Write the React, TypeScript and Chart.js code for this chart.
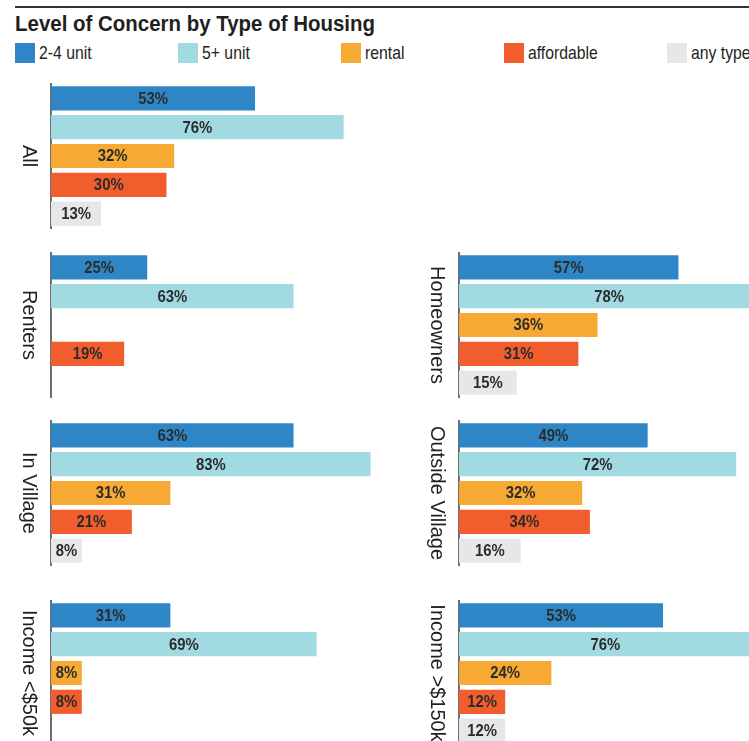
import React, { useEffect, useRef } from 'react';
import { Chart, registerables } from 'chart.js';

Chart.register(...registerables);

const chartTitle = 'Level of Concern by Type of Housing';
const housingTypes = ['2-4 unit', '5+ unit', 'rental', 'affordable', 'any type'];
const typeColors = ['#2e86c6', '#a2dae2', '#f6aa33', '#f15d2d', '#e6e7e9'];

const allValues = [53, 76, 32, 30, 13];
const renterValues = [25, 63, null, 19, null];
const homeownerValues = [57, 78, 36, 31, 15];
const inVillageValues = [63, 83, 31, 21, 8];
const outsideVillageValues = [49, 72, 32, 34, 16];
const incomeUnder50kValues = [31, 69, 8, 8, null];
const incomeOver150kValues = [53, 76, 24, 12, 12];

const FONT = "'Liberation Sans', Arial, sans-serif";
const TEXT = '#231f20';

const barLabelPlugin = {
  id: 'barLabels',
  afterDatasetsDraw(chart: any) {
    const ctx = chart.ctx;
    const meta = chart.getDatasetMeta(0);
    const data = chart.data.datasets[0].data;
    meta.data.forEach((el: any, i: number) => {
      const v = data[i];
      if (v == null) return;
      const p = el.getProps(['x', 'y', 'base'], true);
      ctx.save();
      ctx.font = `bold 16px ${FONT}`;
      ctx.fillStyle = '#2b2b2b';
      ctx.textAlign = 'center';
      ctx.textBaseline = 'middle';
      ctx.translate((p.x + p.base) / 2, p.y + 1);
      ctx.scale(0.93, 1);
      ctx.fillText(`${v}%`, 0, 0);
      ctx.restore();
    });
  },
};

const panelLabelPlugin = {
  id: 'panelLabel',
  afterDraw(chart: any, _args: any, opts: any) {
    const { ctx, chartArea } = chart;
    ctx.save();
    ctx.translate(chartArea.left - 28, (chartArea.top + chartArea.bottom) / 2);
    ctx.rotate(Math.PI / 2);
    ctx.font = `20px ${FONT}`;
    ctx.fillStyle = TEXT;
    ctx.textAlign = 'center';
    ctx.textBaseline = 'alphabetic';
    ctx.fillText(opts.text, 0, 0);
    ctx.restore();
  },
};

type PanelProps = { label: string; values: (number | null)[]; left: number; top: number; axisX: number; height: number };

const PAD_V = 24;

function Panel({ label, values, left, top, axisX, height }: PanelProps) {
  const ref = useRef<HTMLCanvasElement>(null);
  const width = 450;
  useEffect(() => {
    const chart = new Chart(ref.current as HTMLCanvasElement, {
      type: 'bar',
      data: {
        labels: housingTypes,
        datasets: [
          {
            data: values as any,
            backgroundColor: typeColors,
            borderWidth: 0,
            barPercentage: 0.84,
            categoryPercentage: 1,
          },
        ],
      },
      options: {
        indexAxis: 'y',
        animation: false,
        responsive: false,
        maintainAspectRatio: false,
        layout: { padding: { left: axisX - left, right: width - (axisX - left) - 385, top: PAD_V, bottom: PAD_V } },
        scales: {
          x: { display: false, min: 0, max: 100 },
          y: {
            display: true,
            ticks: { display: false },
            grid: { display: false, drawTicks: false },
            border: { display: true, color: '#6d6e71', width: 2 },
          },
        },
        plugins: {
          legend: { display: false },
          tooltip: { enabled: false },
          panelLabel: { text: label },
        } as any,
      },
      plugins: [barLabelPlugin, panelLabelPlugin],
    });
    return () => chart.destroy();
  }, []);
  return (
    <canvas
      ref={ref}
      width={width}
      height={height + PAD_V * 2}
      style={{ position: 'absolute', left, top: top - PAD_V, width, height: height + PAD_V * 2 }}
    />
  );
}

const legendX = [15, 178, 341, 504, 667];

export default function App() {
  return (
    <div
      style={{
        position: 'absolute',
        left: 0,
        top: 0,
        width: 749,
        height: 741,
        overflow: 'hidden',
        background: '#fff',
      }}
    >
      <div style={{ position: 'absolute', left: 15, top: 6, width: 734, height: 2, background: '#333' }} />
      <div
        style={{
          position: 'absolute',
          left: 15,
          top: 10,
          fontFamily: FONT,
          fontWeight: 'bold',
          fontSize: 22,
          lineHeight: '28px',
          color: TEXT,
          whiteSpace: 'nowrap',
          transform: 'scaleX(0.93)',
          transformOrigin: 'left center',
        }}
      >
        {chartTitle}
      </div>
      {housingTypes.map((t, i) => (
        <div
          key={t}
          style={{
            position: 'absolute',
            left: legendX[i],
            top: 43,
            height: 20,
            display: 'flex',
            alignItems: 'center',
            whiteSpace: 'nowrap',
          }}
        >
          <div style={{ width: 20, height: 20, background: typeColors[i], flex: 'none' }} />
          <span
            style={{
              display: 'inline-block',
              marginLeft: 4,
              fontFamily: FONT,
              fontSize: 19,
              color: TEXT,
              transform: 'scaleX(0.83)',
              transformOrigin: 'left center',
            }}
          >
            {t}
          </span>
        </div>
      ))}
      <Panel label="All" values={allValues} left={0} top={84} axisX={51} height={144} />
      <Panel label="Renters" values={renterValues} left={0} top={253} axisX={51} height={144} />
      <Panel label="Homeowners" values={homeownerValues} left={400} top={253} axisX={459} height={144} />
      <Panel label="In Village" values={inVillageValues} left={0} top={421} axisX={51} height={144} />
      <Panel label="Outside Village" values={outsideVillageValues} left={400} top={421} axisX={459} height={144} />
      <Panel label="Income <$50k" values={incomeUnder50kValues} left={0} top={601} axisX={51} height={144} />
      <Panel label="Income >$150k" values={incomeOver150kValues} left={400} top={601} axisX={459} height={144} />
    </div>
  );
}
